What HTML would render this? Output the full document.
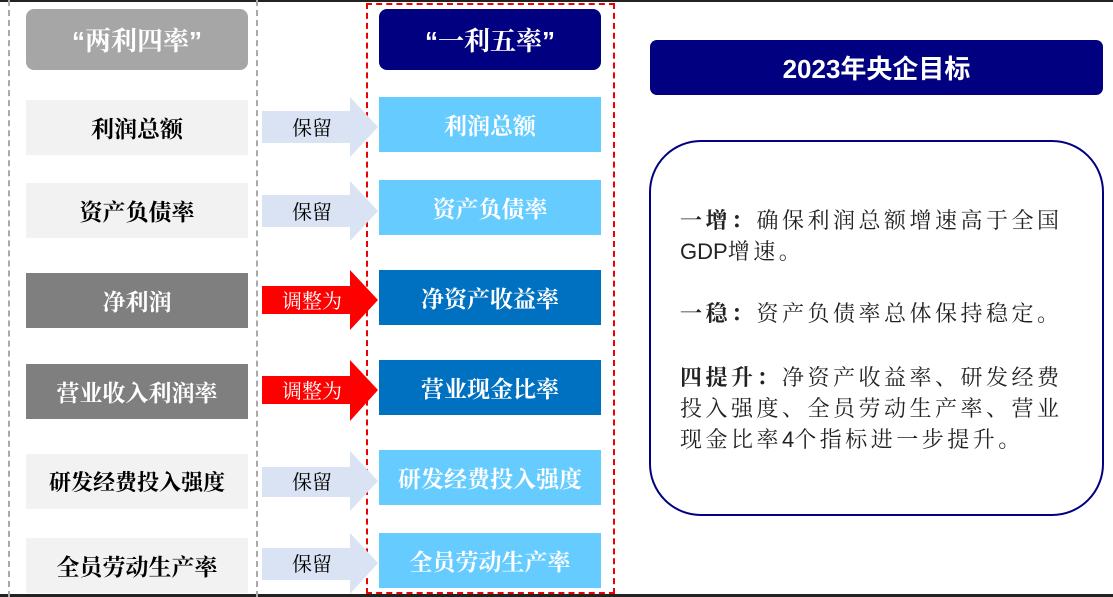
<!DOCTYPE html>
<html><head><meta charset="utf-8"><style>
body{margin:0;width:1113px;height:597px;position:relative;background:#fff;overflow:hidden;font-family:"Liberation Sans","Noto Serif CJK SC","Noto Sans CJK SC",serif;}
.a{position:absolute;box-sizing:border-box;display:flex;align-items:center;justify-content:center;}
.l{left:26px;width:222px;height:55px;font-size:23px;font-weight:bold;background:#f2f2f2;color:#000;}
.r{left:379px;width:222px;height:55px;font-size:23px;font-weight:bold;background:#66ccff;color:#fff;}
svg{position:absolute;left:0;top:0;}
.t{position:absolute;left:680px;font-size:22px;letter-spacing:3.5px;color:#222;line-height:31px;white-space:nowrap;font-family:"Liberation Sans","Noto Serif CJK SC",serif;}
.t span{letter-spacing:0;}
</style></head><body>
<div style="position:absolute;left:0;top:0;width:1113px;height:2px;background:#222"></div>
<div style="position:absolute;left:0;top:594px;width:1113px;height:3px;background:#222"></div>
<div style="position:absolute;left:8px;top:0;height:597px;border-left:2px dashed #aaa"></div>
<div style="position:absolute;left:256px;top:0;height:597px;border-left:2px dashed #aaa"></div>
<div style="position:absolute;left:366px;top:3px;width:249px;height:591px;border:2px dashed #e00;box-sizing:border-box"></div>

<div class="a" style="left:26px;top:9px;width:222px;height:61px;border-radius:8px;background:#a6a6a6;color:#fff;font-size:26px;font-weight:bold">“两利四率”</div>
<div class="a" style="left:379px;top:9px;width:222px;height:61px;border-radius:8px;background:#000080;color:#fff;font-size:26px;font-weight:bold">“一利五率”</div>

<div class="a l" style="top:100px">利润总额</div>
<div class="a l" style="top:183px">资产负债率</div>
<div class="a l" style="top:273px;background:#7f7f7f;color:#fff">净利润</div>
<div class="a l" style="top:364px;background:#7f7f7f;color:#fff">营业收入利润率</div>
<div class="a l" style="top:454px;font-size:22px">研发经费投入强度</div>
<div class="a l" style="top:538px">全员劳动生产率</div>

<div class="a r" style="top:97px">利润总额</div>
<div class="a r" style="top:180px">资产负债率</div>
<div class="a r" style="top:270px;background:#0070c0">净资产收益率</div>
<div class="a r" style="top:360px;background:#0070c0">营业现金比率</div>
<div class="a r" style="top:450px">研发经费投入强度</div>
<div class="a r" style="top:533px">全员劳动生产率</div>

<svg width="1113" height="597">
<g fill="#dae3f3">
<polygon points="262,111 350,111 350,97 378,127 350,157 350,143 262,143"/>
<polygon points="262,195 350,195 350,181 378,211 350,241 350,227 262,227"/>
<polygon points="262,467 350,467 350,451 378,481 350,511 350,497 262,497"/>
<polygon points="262,548 350,548 350,533 378,563 350,594 350,580 262,580"/>
</g>
<g fill="#ff0000">
<polygon points="262,286 350,286 350,270 378,300 350,330 350,314 262,314"/>
<polygon points="262,376 350,376 350,360 378,390 350,421 350,404 262,404"/>
</g>
<g font-size="20" text-anchor="middle" font-family="Liberation Sans, Noto Serif CJK SC, serif">
<text x="312" y="135" fill="#000">保留</text>
<text x="312" y="219" fill="#000">保留</text>
<text x="312" y="308" fill="#fff">调整为</text>
<text x="312" y="398" fill="#fff">调整为</text>
<text x="312" y="489" fill="#000">保留</text>
<text x="312" y="571" fill="#000">保留</text>
</g>
</svg>

<div class="a" style="left:650px;top:40px;width:453px;height:55px;border-radius:7px;background:#000080;color:#fff;font-size:26px;font-weight:bold;font-family:'Liberation Sans','Noto Sans CJK SC',sans-serif">2023年央企目标</div>
<div style="position:absolute;left:649px;top:140px;width:455px;height:376px;border:2px solid #000080;border-radius:52px;box-sizing:border-box"></div>
<div class="t" style="top:205px"><b>一增：</b>确保利润总额增速高于全国<br><span>GDP</span>增速。</div>
<div class="t" style="top:298px"><b>一稳：</b>资产负债率总体保持稳定。</div>
<div class="t" style="top:362px"><b>四提升：</b>净资产收益率、研发经费<br>投入强度、全员劳动生产率、营业<br>现金比率<span>4</span>个指标进一步提升。</div>
</body></html>
